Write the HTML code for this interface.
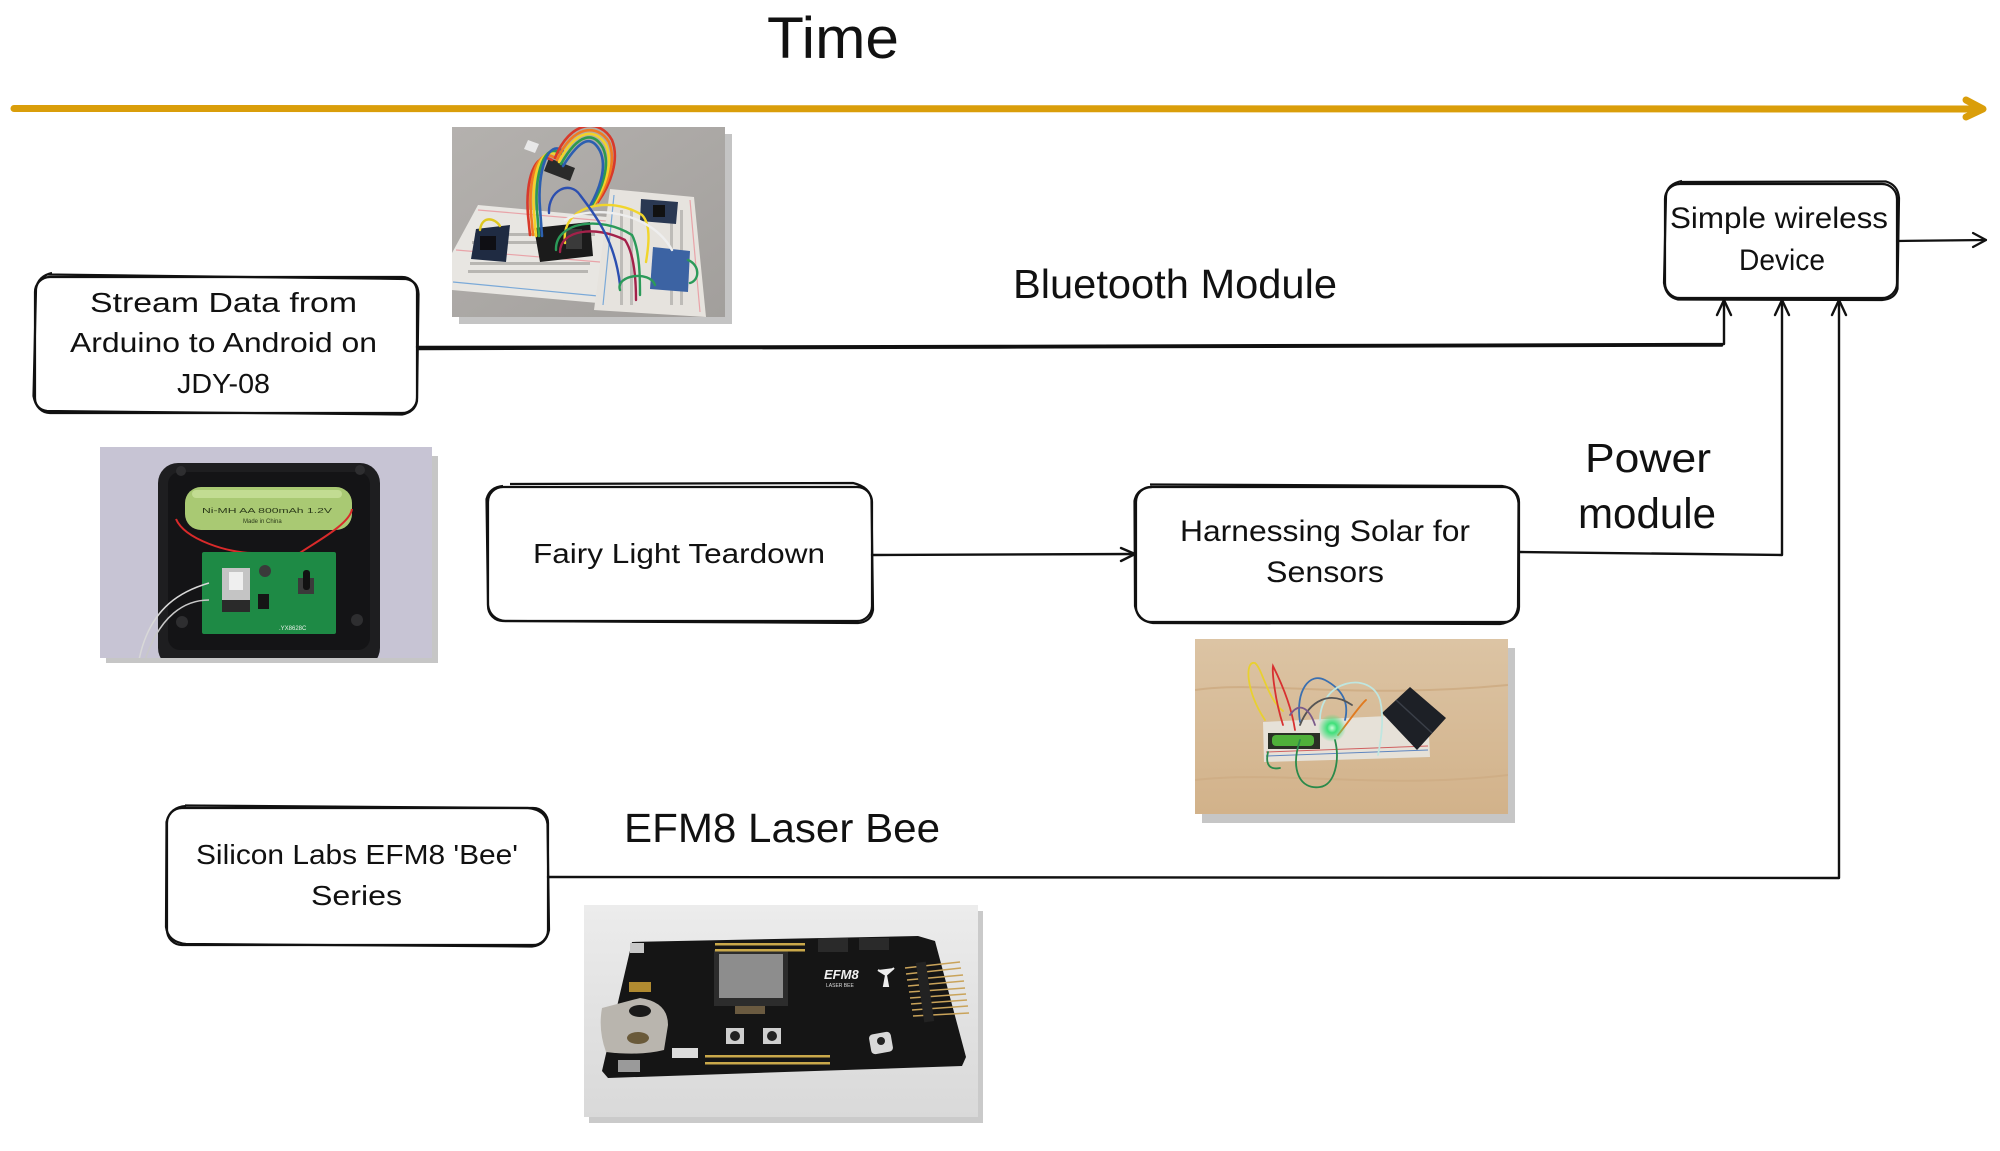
<!DOCTYPE html>
<html>
<head>
<meta charset="utf-8">
<style>
  html,body{margin:0;padding:0;background:#fff;}
  body{width:2000px;height:1151px;overflow:hidden;}
  svg{display:block;}
  .t{font-family:"Liberation Sans", sans-serif;fill:#111;}
</style>
</head>
<body>
<svg width="2000" height="1151" viewBox="0 0 2000 1151" xmlns="http://www.w3.org/2000/svg">
  <defs>
    <clipPath id="c1"><rect x="452" y="127" width="273" height="190"/></clipPath>
    <clipPath id="c2"><rect x="100" y="447" width="332" height="211"/></clipPath>
    <clipPath id="c3"><rect x="1195" y="639" width="313" height="175"/></clipPath>
    <clipPath id="c4"><rect x="584" y="905" width="394" height="212"/></clipPath>
    <linearGradient id="g1" x1="0" y1="0" x2="1" y2="1">
      <stop offset="0" stop-color="#b4b1ae"/><stop offset="1" stop-color="#a29f9c"/>
    </linearGradient>
    <linearGradient id="g3" x1="0" y1="0" x2="0" y2="1">
      <stop offset="0" stop-color="#dcc4a4"/><stop offset="1" stop-color="#d2b28a"/>
    </linearGradient>
    <linearGradient id="g4" x1="0" y1="0" x2="0" y2="1">
      <stop offset="0" stop-color="#ececec"/><stop offset="0.5" stop-color="#e2e2e2"/><stop offset="1" stop-color="#d9d9d9"/>
    </linearGradient>
    <radialGradient id="glow">
      <stop offset="0" stop-color="#c8ffd8"/><stop offset="0.35" stop-color="#3fe07a"/><stop offset="1" stop-color="#3fe07a" stop-opacity="0"/>
    </radialGradient>
  </defs>

  <rect width="2000" height="1151" fill="#fff"/>

  <!-- Title -->
  <text class="t" x="767" y="58" font-size="58" textLength="132" lengthAdjust="spacingAndGlyphs">Time</text>

  <!-- Timeline -->
  <path d="M14,108.5 L1980,109" stroke="#DA9E0A" stroke-width="7" stroke-linecap="round" fill="none"/>
  <path d="M1966,100 L1983,109 L1966,117" stroke="#DA9E0A" stroke-width="7" stroke-linecap="round" stroke-linejoin="round" fill="none"/>

  <!-- ============ Photo 1 : breadboards ============ -->
  <rect x="459" y="134" width="273" height="190" fill="#c4c4c4"/>
  <g clip-path="url(#c1)">
    <rect x="452" y="127" width="273" height="190" fill="url(#g1)"/>
    <!-- left breadboard -->
    <polygon points="452,253 478,205 607,217 598,303 452,290" fill="#e8e6e2"/>
    <path d="M456,250 L600,262" stroke="#e9a3a8" stroke-width="1.2"/>
    <path d="M453,282 L598,296" stroke="#7aa9d8" stroke-width="1.2"/>
    <path d="M478,210 L606,221" stroke="#e9a3a8" stroke-width="1.2"/>
    <g fill="#b8b6b2">
      <rect x="470" y="262" width="120" height="3"/><rect x="468" y="270" width="120" height="3"/>
      <rect x="475" y="233" width="120" height="3"/><rect x="472" y="241" width="120" height="3"/>
    </g>
    <!-- right breadboard -->
    <polygon points="610,189 694,197 706,317 594,310" fill="#e6e3de"/>
    <path d="M614,195 L603,305" stroke="#7aa9d8" stroke-width="1.2"/>
    <path d="M690,200 L700,312" stroke="#e9a3a8" stroke-width="1.2"/>
    <g fill="#bebcb8">
      <rect x="620" y="210" width="3" height="95"/><rect x="630" y="210" width="3" height="95"/>
      <rect x="680" y="210" width="3" height="95"/><rect x="670" y="215" width="3" height="90"/>
    </g>
    <!-- modules -->
    <polygon points="476,229 510,225 506,262 471,259" fill="#1f2b42"/>
    <rect x="480" y="236" width="16" height="14" fill="#0f0f14"/>
    <polygon points="641,199 678,202 676,224 640,221" fill="#2a3852"/>
    <rect x="653" y="205" width="12" height="12" fill="#111"/>
    <polygon points="653,247 690,251 688,292 650,289" fill="#3c63a3"/>
    <polygon points="534,228 590,222 593,256 540,262" fill="#1b1b1b"/>
    <rect x="566" y="229" width="16" height="20" fill="#3a3a3a"/>
    <!-- usb adaptor -->
    <polygon points="549,158 575,168 570,181 544,171" fill="#2a2a2a"/>
    <polygon points="528,140 539,144 535,153 524,149" fill="#e8e8e8"/>
    <!-- rainbow ribbon -->
    <g fill="none" stroke-width="2.6" stroke-linecap="round">
      <path d="M552,160 C535,150 525,180 528,215 L530,235" stroke="#d8392b"/>
      <path d="M555,158 C538,146 528,178 531,213 L533,235" stroke="#ef7b22"/>
      <path d="M558,156 C541,143 531,176 534,212 L536,236" stroke="#f2d22a"/>
      <path d="M561,154 C545,140 534,174 537,210 L539,236" stroke="#2f9a4e"/>
      <path d="M564,152 C548,137 537,172 540,208 L542,236" stroke="#2c5fb0"/>
      <path d="M555,158 C570,120 600,118 612,140 C620,160 610,185 598,202" stroke="#d8392b"/>
      <path d="M557,160 C573,124 598,124 609,142 C617,162 607,186 596,203" stroke="#ef7b22"/>
      <path d="M559,162 C576,128 596,128 606,145 C614,164 604,188 594,204" stroke="#f2d22a"/>
      <path d="M561,164 C579,132 594,132 603,148 C611,166 601,190 592,205" stroke="#2f9a4e"/>
      <path d="M563,166 C582,136 592,136 600,151 C608,168 598,192 590,206" stroke="#2c5fb0"/>
    </g>
    <!-- other wires -->
    <g fill="none" stroke-width="2.4" stroke-linecap="round">
      <path d="M565,243 C560,205 610,195 642,215 C652,225 648,250 646,262" stroke="#f1d52c"/>
      <path d="M556,250 C555,222 600,215 632,235 C640,250 640,280 640,295" stroke="#2b9a59"/>
      <path d="M560,252 C560,230 595,225 625,240 C635,255 636,285 636,300" stroke="#a3214a"/>
      <path d="M565,220 C590,205 650,210 672,250" stroke="#eeeeee"/>
      <path d="M549,213 C548,190 570,180 580,195 C595,215 615,240 620,285" stroke="#2c4fb0"/>
      <path d="M480,230 C482,215 495,218 500,226" stroke="#e0c820"/>
      <path d="M620,290 C615,275 650,270 655,285" stroke="#2b9a59"/>
      <path d="M688,260 C700,265 700,280 690,283" stroke="#2b9a59"/>
    </g>
  </g>

  <!-- ============ Stream box ============ -->
  <g fill="none" stroke="#111" stroke-width="2.2">
    <rect x="35" y="277" width="382" height="136" rx="15"/>
    <path d="M48,274.5 L406,279 Q418,281 418.5,294 L417,401 Q415,412 402,414.5 L47,411 Q36,410 33.5,396 L36,289 Q38,276 52,273"/>
  </g>
  <text class="t" x="90" y="312" font-size="28" textLength="267" lengthAdjust="spacingAndGlyphs">Stream Data from</text>
  <text class="t" x="70" y="352" font-size="28" textLength="307" lengthAdjust="spacingAndGlyphs">Arduino to Android on</text>
  <text class="t" x="177" y="393" font-size="28" textLength="93" lengthAdjust="spacingAndGlyphs">JDY-08</text>

  <!-- Bluetooth label -->
  <text class="t" x="1013" y="298" font-size="41" textLength="324" lengthAdjust="spacingAndGlyphs">Bluetooth Module</text>

  <!-- ============ Simple wireless box ============ -->
  <g fill="none" stroke="#111" stroke-width="2.2">
    <rect x="1665" y="184" width="232" height="114" rx="15"/>
    <path d="M1680,182 L1886,181.5 Q1898,185 1899,198 L1897.5,289 Q1895,299 1882,300 L1678,299.5 Q1666,297 1664,283 L1666,196 Q1667,184 1682,181"/>
  </g>
  <text class="t" x="1670" y="228" font-size="30" textLength="218" lengthAdjust="spacingAndGlyphs">Simple wireless</text>
  <text class="t" x="1739" y="270" font-size="30" textLength="86" lengthAdjust="spacingAndGlyphs">Device</text>

  <!-- output arrow -->
  <g fill="none" stroke="#111" stroke-width="2.2" stroke-linecap="round" stroke-linejoin="round">
    <path d="M1897,241 L1986,240"/>
    <path d="M1973,233 L1986,240 L1973,247"/>
  </g>

  <!-- ============ Connectors ============ -->
  <g fill="none" stroke="#111" stroke-width="2.4" stroke-linecap="round" stroke-linejoin="round">
    <!-- Stream -> Simple -->
    <path d="M417,347 L1000,346 L1724,344 L1724,301"/>
    <path d="M418,349 L1000,347.5 L1722,345.5"/>
    <path d="M1717,315 L1724,300 L1731,315"/>
    <!-- Harnessing -> Simple -->
    <path d="M1519,552 L1782,555 L1782,301"/>
    <path d="M1775,315 L1782,300 L1789,315"/>
    <!-- Silicon -> Simple -->
    <path d="M548,877 L1839,878 L1839,301"/>
    <path d="M1832,315 L1839,300 L1846,315"/>
    <!-- Fairy -> Harnessing -->
    <path d="M872,555 L1135,554"/>
    <path d="M1121,548 L1135,554 L1121,561"/>
  </g>

  <!-- ============ Photo 2 : fairy light ============ -->
  <rect x="106" y="456" width="332" height="207" fill="#c6c6c6"/>
  <g clip-path="url(#c2)">
    <rect x="100" y="447" width="332" height="211" fill="#c7c4d4"/>
    <rect x="158" y="463" width="222" height="205" rx="20" fill="#1e1e20"/>
    <rect x="168" y="472" width="202" height="178" rx="12" fill="#141416"/>
    <circle cx="181" cy="471" r="5" fill="#2e2e30"/><circle cx="360" cy="470" r="5" fill="#2e2e30"/>
    <circle cx="182" cy="622" r="6" fill="#2e2e30"/><circle cx="357" cy="620" r="6" fill="#2e2e30"/>
    <!-- battery -->
    <rect x="185" y="487" width="167" height="43" rx="16" fill="#a9c973"/>
    <rect x="192" y="490" width="150" height="8" rx="4" fill="#c2dc92"/>
    <text x="202" y="513" font-family="Liberation Sans, sans-serif" font-size="7.5" fill="#2b3a1a" textLength="130" lengthAdjust="spacingAndGlyphs">Ni-MH AA 800mAh 1.2V</text>
    <text x="243" y="523" font-family="Liberation Sans, sans-serif" font-size="6" fill="#2b3a1a">Made in China</text>
    <!-- red wires -->
    <path d="M176,519 C185,540 230,553 252,553" fill="none" stroke="#d92a2a" stroke-width="2"/>
    <path d="M352,509 C350,525 310,545 297,555" fill="none" stroke="#d92a2a" stroke-width="2"/>
    <!-- pcb -->
    <rect x="202" y="552" width="134" height="82" rx="2" fill="#1e8a45"/>
    <rect x="222" y="568" width="28" height="33" fill="#c4c4c4"/>
    <rect x="229" y="572" width="14" height="18" fill="#efefef"/>
    <rect x="222" y="600" width="28" height="12" fill="#2a2a2a"/>
    <rect x="258" y="594" width="11" height="15" fill="#151515"/>
    <circle cx="265" cy="571" r="6" fill="#3a3a3a"/>
    <rect x="298" y="578" width="16" height="16" fill="#3a3a3a"/>
    <rect x="303" y="570" width="7" height="20" rx="3" fill="#111"/>
    <text x="279" y="630" font-family="Liberation Sans, sans-serif" font-size="6" fill="#e8f0e8">.YX8628C</text>
    <!-- silver wires -->
    <path d="M209,583 C185,590 150,605 139,660" fill="none" stroke="#d8d8d8" stroke-width="1.5"/>
    <path d="M209,600 C185,600 160,615 145,660" fill="none" stroke="#c8c8c8" stroke-width="1.5"/>
  </g>

  <!-- ============ Fairy box ============ -->
  <g fill="none" stroke="#111" stroke-width="2.2">
    <rect x="488" y="487" width="384" height="134" rx="15"/>
    <path d="M510,484 L853,483 Q870,487 871.5,500 L873,610 Q871,622 858,623 L505,621 Q490,619 488,605 L486.5,499 Q490,487 503,486"/>
  </g>
  <text class="t" x="533" y="563" font-size="28" textLength="292" lengthAdjust="spacingAndGlyphs">Fairy Light Teardown</text>

  <!-- ============ Harnessing box ============ -->
  <g fill="none" stroke="#111" stroke-width="2.2">
    <rect x="1136" y="487" width="383" height="135" rx="15"/>
    <path d="M1150,484.5 L1502,486 Q1517,488 1518.5,503 L1518,607 Q1516,622 1500,624 L1153,623 Q1138,621 1135,606 L1134.5,501 Q1137,488 1152,487"/>
  </g>
  <text class="t" x="1180" y="541" font-size="30" textLength="290" lengthAdjust="spacingAndGlyphs">Harnessing Solar for</text>
  <text class="t" x="1266" y="582" font-size="30" textLength="118" lengthAdjust="spacingAndGlyphs">Sensors</text>

  <!-- Power module -->
  <text class="t" x="1585" y="472" font-size="41" textLength="126" lengthAdjust="spacingAndGlyphs">Power</text>
  <text class="t" x="1578" y="528" font-size="43" textLength="138" lengthAdjust="spacingAndGlyphs">module</text>

  <!-- ============ Photo 3 : solar ============ -->
  <rect x="1202" y="648" width="313" height="175" fill="#c6c6c6"/>
  <g clip-path="url(#c3)">
    <rect x="1195" y="639" width="313" height="175" fill="url(#g3)"/>
    <path d="M1195,690 C1260,680 1350,700 1508,685" stroke="#cfae86" stroke-width="2" fill="none"/>
    <path d="M1195,780 C1280,770 1380,790 1508,775" stroke="#cfae86" stroke-width="2" fill="none"/>
    <!-- breadboard -->
    <polygon points="1263,722 1428,714 1430,757 1264,762" fill="#e6e1d8"/>
    <path d="M1266,752 L1428,746" stroke="#d06060" stroke-width="1"/>
    <path d="M1266,756 L1428,750" stroke="#5f86c0" stroke-width="1"/>
    <!-- battery holder -->
    <rect x="1268" y="733" width="52" height="16" fill="#2a3026"/>
    <rect x="1272" y="735" width="42" height="11" rx="4" fill="#4fb03a"/>
    <!-- solar panel -->
    <polygon points="1382,713 1410,687 1446,718 1417,750" fill="#1d2026"/>
    <path d="M1396,700 L1432,733" stroke="#3a3f48" stroke-width="1.5"/>
    <!-- wires -->
    <g fill="none" stroke-width="1.8" stroke-linecap="round">
      <path d="M1265,720 C1245,690 1245,660 1255,663 C1262,668 1268,700 1283,711" stroke="#e8d030"/>
      <path d="M1283,725 C1275,700 1272,672 1273,666 C1285,690 1292,710 1295,730" stroke="#d83030"/>
      <path d="M1300,722 C1295,690 1310,672 1325,680 C1340,688 1350,700 1345,720" stroke="#3a6fb0"/>
      <path d="M1320,720 C1320,680 1370,670 1380,700 C1385,720 1380,745 1378,755" stroke="#bfe6e0"/>
      <path d="M1300,740 C1290,770 1300,790 1320,787 C1335,785 1340,760 1335,740" stroke="#2a8a4a"/>
      <path d="M1268,752 C1265,765 1270,770 1280,768" stroke="#2a8a4a"/>
      <path d="M1338,735 C1350,720 1360,705 1366,700" stroke="#e07a20"/>
      <path d="M1300,725 C1310,700 1330,690 1352,705" stroke="#555"/>
      <path d="M1290,715 C1300,700 1310,710 1315,725" stroke="#7a5a8a"/>
    </g>
    <circle cx="1332" cy="728" r="14" fill="url(#glow)"/>
  </g>

  <!-- ============ Silicon box ============ -->
  <g fill="none" stroke="#111" stroke-width="2.2">
    <rect x="167" y="808" width="381" height="137" rx="15"/>
    <path d="M185,805.5 L528,808 Q546,810 547.5,824 L549,930 Q546,945 532,946.5 L186,944 Q168,942 166,927 L166.5,822 Q170,807 186,806"/>
  </g>
  <text class="t" x="196" y="864" font-size="28" textLength="322" lengthAdjust="spacingAndGlyphs">Silicon Labs EFM8 'Bee'</text>
  <text class="t" x="311" y="905" font-size="28" textLength="91" lengthAdjust="spacingAndGlyphs">Series</text>

  <!-- EFM8 label -->
  <text class="t" x="624" y="842" font-size="41" textLength="316" lengthAdjust="spacingAndGlyphs">EFM8 Laser Bee</text>

  <!-- ============ Photo 4 : EFM8 board ============ -->
  <rect x="589" y="911" width="394" height="212" fill="#cacaca"/>
  <g clip-path="url(#c4)">
    <rect x="584" y="905" width="394" height="212" fill="url(#g4)"/>
    <polygon points="632,942 918,936 935,941 966,1057 962,1066 608,1078 602,1071" fill="#151515"/>
    <!-- screen -->
    <rect x="714" y="950" width="74" height="56" fill="#2c2c2c"/>
    <rect x="719" y="954" width="64" height="44" fill="#8d8d8d"/>
    <rect x="735" y="1006" width="30" height="8" fill="#6a5a40"/>
    <!-- coin cell holder -->
    <path d="M602,1008 L640,998 Q668,1002 668,1025 L664,1050 Q640,1056 606,1052 Q598,1030 602,1008 Z" fill="#b9b5ae"/>
    <ellipse cx="640" cy="1011" rx="11" ry="6" fill="#1a1a1a"/>
    <ellipse cx="638" cy="1038" rx="11" ry="6" fill="#6a5a3a"/>
    <!-- usb -->
    <rect x="630" y="943" width="14" height="10" fill="#c8c8c8"/>
    <rect x="629" y="982" width="22" height="10" fill="#b08a30"/>
    <!-- headers top -->
    <rect x="818" y="938" width="30" height="14" fill="#2a2a2a"/>
    <rect x="859" y="938" width="30" height="12" fill="#2a2a2a"/>
    <!-- right header pins -->
    <g stroke="#c9a35a" stroke-width="1.6">
      <path d="M905,968 L960,962"/><path d="M906,974 L961,968"/><path d="M907,980 L963,975"/>
      <path d="M908,986 L964,981"/><path d="M909,992 L965,988"/><path d="M910,998 L966,994"/>
      <path d="M911,1004 L967,1000"/><path d="M912,1010 L968,1006"/><path d="M913,1016 L969,1013"/>
    </g>
    <rect x="920" y="962" width="10" height="60" fill="#222" transform="rotate(-8 925 992)"/>
    <!-- logo -->
    <text x="824" y="979" font-family="Liberation Sans, sans-serif" font-weight="bold" font-size="13" fill="#f2f2f2" font-style="italic">EFM8</text>
    <text x="826" y="987" font-family="Liberation Sans, sans-serif" font-size="5" fill="#dddddd">LASER BEE</text>
    <path d="M878,970 L886,975 L894,968 M886,975 L884,986 L888,986 Z" stroke="#eee" stroke-width="2" fill="#eee"/>
    <!-- buttons -->
    <rect x="726" y="1028" width="18" height="16" fill="#cfcfcf"/><circle cx="735" cy="1036" r="5" fill="#222"/>
    <rect x="763" y="1028" width="18" height="16" fill="#cfcfcf"/><circle cx="772" cy="1036" r="5" fill="#222"/>
    <rect x="870" y="1033" width="22" height="20" rx="4" fill="#d8d8d8" transform="rotate(-10 881 1043)"/>
    <circle cx="881" cy="1041" r="4" fill="#222"/>
    <!-- gold dots -->
    <g fill="#c9a84a">
      <rect x="705" y="1055" width="125" height="2.5"/>
      <rect x="705" y="1062" width="125" height="2.5"/>
      <rect x="715" y="943" width="90" height="2.5"/>
      <rect x="715" y="949" width="90" height="2.5"/>
    </g>
    <rect x="672" y="1048" width="26" height="10" fill="#dcdcdc"/>
    <rect x="618" y="1060" width="22" height="12" fill="#9a9a9a"/>
  </g>
</svg>
</body>
</html>
